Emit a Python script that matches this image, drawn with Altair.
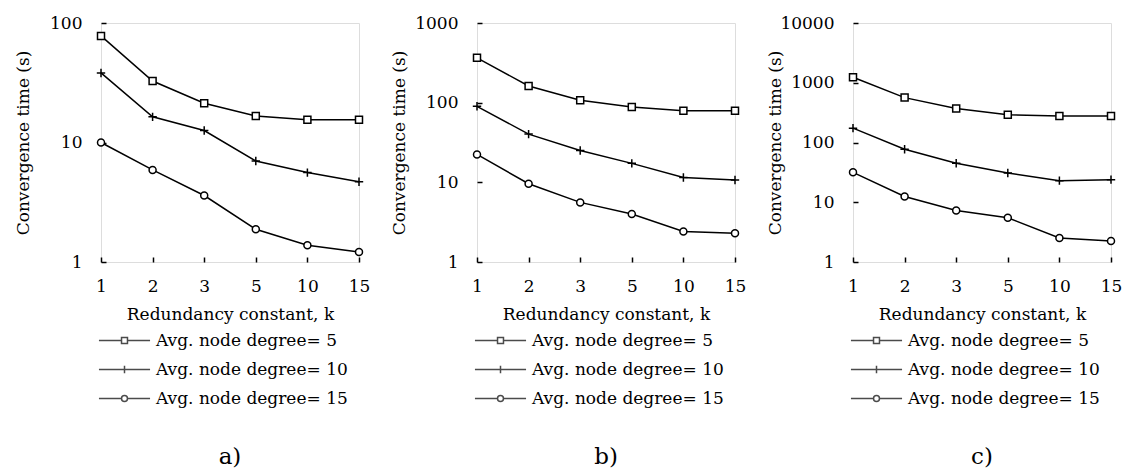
import altair as alt
import pandas as pd

# ---------------- data ----------------
k_values = ["1", "2", "3", "5", "10", "15"]
series_names = ["Avg. node degree= 5", "Avg. node degree= 10", "Avg. node degree= 15"]

# panel a)
a_deg5 = [78, 32.7, 21.3, 16.7, 15.5, 15.5]
a_deg10 = [38.2, 16.4, 12.6, 7.0, 5.6, 4.7]
a_deg15 = [10.0, 5.9, 3.6, 1.88, 1.38, 1.21]
# panel b)
b_deg5 = [365, 162, 107, 88, 79, 79]
b_deg10 = [90, 40.3, 25.1, 17.3, 11.5, 10.7]
b_deg15 = [22.4, 9.6, 5.6, 4.0, 2.42, 2.3]
# panel c)
c_deg5 = [1236, 564, 372, 292, 277, 277]
c_deg10 = [174, 77.3, 44.9, 30.9, 23.0, 23.9]
c_deg15 = [31.7, 12.5, 7.3, 5.5, 2.53, 2.25]

captions = ["a)", "b)", "c)"]
y_ticks_a = [1, 10, 100]
y_ticks_b = [1, 10, 100, 1000]
y_ticks_c = [1, 10, 100, 1000, 10000]

# chart markers: square, thin plus, circle
marker_shapes = [
    "M-1,-1H1V1H-1Z",
    "M-1.2,0H1.2M0,-1.2V1.2",
    "M-1,0A1,1 0 1,0 1,0A1,1 0 1,0 -1,0",
]
# legend symbols: line segment with the marker in the middle
legend_shapes = [
    "M-7.3,0H-0.85M0.85,0H7.3M-0.85,-0.85H0.85V0.85H-0.85Z",
    "M-7.3,0H7.3M0,-1.1V1.1",
    "M-7.3,0H-0.85M0.85,0H7.3M-0.85,0A0.85,0.85 0 1,0 0.85,0A0.85,0.85 0 1,0 -0.85,0",
]

FONT = "DejaVu Serif"
FS = 17
LFS = 17
W, H = 258, 239


def panel(series_values, caption, ticks):
    rows = []
    for name, vals in zip(series_names, series_values):
        for k, v in zip(k_values, vals):
            rows.append({"k": k, "time": v, "series": name})
    df = pd.DataFrame(rows)

    base = alt.Chart(df).encode(
        x=alt.X(
            "k:O",
            sort=k_values,
            scale=alt.Scale(type="point", padding=0),
            axis=alt.Axis(
                title="Redundancy constant, k",
                labelAngle=0, domain=False, grid=False,
                tickSize=5, tickWidth=1.5, tickColor="black", offset=-5,
                labelPadding=16, titlePadding=12,
                labelFont=FONT, labelFontSize=FS, labelColor="black",
                titleFont=FONT, titleFontSize=FS, titleFontWeight="normal", titleColor="black",
            ),
        ),
        y=alt.Y(
            "time:Q",
            scale=alt.Scale(type="log", domain=[ticks[0], ticks[-1]], nice=False),
            axis=alt.Axis(
                title="Convergence time (s)",
                values=ticks, format="d", domain=False, grid=False,
                tickSize=5, tickWidth=1.5, tickColor="black", offset=-5,
                labelPadding=19,
                labelFont=FONT, labelFontSize=FS, labelColor="black",
                titleFont=FONT, titleFontSize=FS, titleFontWeight="normal", titleColor="black",
                titleX=-83, titleY=H / 2, titleAlign="center", titleBaseline="middle", titleAngle=270,
            ),
        ),
    )

    lines = base.mark_line(color="black", strokeWidth=1.5).encode(detail="series:N")
    points = base.mark_point(
        fill="white", stroke="black", strokeWidth=1.5, fillOpacity=1, opacity=1, size=49
    ).encode(
        shape=alt.Shape(
            "series:N",
            scale=alt.Scale(domain=series_names, range=marker_shapes),
            legend=None,
        )
    )
    legend_layer = (
        base.mark_point(filled=False, color="black", strokeWidth=1.5)
        .encode(
            shape=alt.Shape(
                "series:N",
                scale=alt.Scale(domain=series_names, range=legend_shapes),
                legend=alt.Legend(
                    title=None, orient="none", legendX=0, legendY=309,
                    symbolSize=49, symbolStrokeWidth=1.5,
                    symbolFillColor="white", symbolStrokeColor="black",
                    symbolOffset=15, labelOffset=23,
                    labelFont=FONT, labelFontSize=LFS, labelColor="black",
                    labelLimit=0, rowPadding=11,
                ),
            )
        )
        .transform_filter("datum.time < 0")
    )

    return (
        alt.layer(lines, points, legend_layer)
        .resolve_scale(shape="independent")
        .properties(
            width=W, height=H,
            title=alt.TitleParams(
                caption, orient="bottom", anchor="middle", font=FONT, fontSize=23,
                fontWeight="normal", color="black", offset=39,
            ),
        )
    )


chart_a = panel([a_deg5, a_deg10, a_deg15], captions[0], y_ticks_a)
chart_b = panel([b_deg5, b_deg10, b_deg15], captions[1], y_ticks_b)
chart_c = panel([c_deg5, c_deg10, c_deg15], captions[2], y_ticks_c)

chart = (
    alt.hconcat(chart_a, chart_b, chart_c, spacing=18)
    .resolve_scale(x="independent", y="independent", shape="independent")
    .resolve_legend(shape="independent")
    .configure_view(stroke="black", strokeWidth=1.5)
    .configure(background="white", font=FONT)
    .properties(padding={"left": 13, "top": 13, "right": 0, "bottom": 0})
)

chart.save("out.html", embed_options={"renderer": "svg", "actions": False})
